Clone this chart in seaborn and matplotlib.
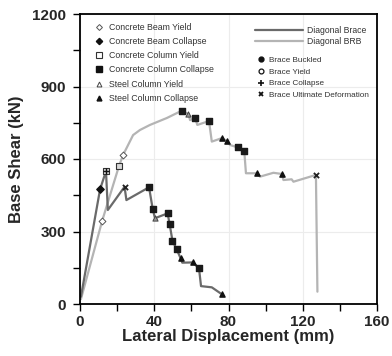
import matplotlib
matplotlib.use("Agg")
import matplotlib.pyplot as plt
import seaborn as sns
import pandas as pd
from matplotlib.lines import Line2D

# Diagonal brace pushover curve
brace_x = [0.5, 10.8, 14.0, 15.0, 24.0, 25.0, 37.2, 39.2, 40.4, 47.2, 48.3, 49.8,
           52.1, 54.2, 55.1, 60.7, 64.1, 65.2, 71.0, 76.3]
brace_y = [30, 474, 550, 389, 485, 430, 483, 392, 355, 375, 330, 262,
           226, 189, 171, 172, 148, 74, 69, 41]

# Diagonal BRB pushover curve
brb_x = [0.5, 11.9, 21.0, 23.3, 28.6, 32.3, 37.7, 46.9, 54.8, 58.4, 59.3, 62.0,
         63.2, 69.5, 71.0, 76.3, 79.4, 80.8, 85.0, 88.5, 89.4, 95.2, 97.0, 104.2,
         108.7, 109.6, 114.0, 115.0, 127.1, 127.9]
brb_y = [20, 343, 571, 618, 699, 720, 741, 770, 800, 786, 761, 771,
         741, 757, 672, 686, 674, 658, 648, 632, 541, 541, 527, 543,
         538, 513, 516, 506, 534, 51]

# damage events
beam_yield_x, beam_yield_y = [11.9, 23.3], [343, 618]
beam_coll_x, beam_coll_y = [10.8], [474]
col_yield_x, col_yield_y = [21.0, 14.0], [571, 550]
col_coll_x = [37.2, 39.2, 47.2, 48.3, 49.8, 52.1, 64.1, 54.8, 62.0, 69.5, 85.0, 88.5]
col_coll_y = [483, 392, 375, 330, 262, 226, 148, 800, 771, 757, 648, 632]
steel_yield_x, steel_yield_y = [40.4, 58.4], [355, 786]
steel_coll_x = [54.2, 60.7, 76.3, 76.3, 79.4, 95.2, 108.7]
steel_coll_y = [189, 172, 41, 686, 674, 541, 538]
brace_coll_x, brace_coll_y = [14.0], [550]
brace_ult_x, brace_ult_y = [24.0, 127.1], [485, 534]

sns.set_style("white")
plt.rcParams["font.family"] = ["Liberation Sans", "DejaVu Sans"]

fig = plt.figure(figsize=(3.92, 3.56), dpi=100)
ax = fig.add_axes([80 / 392, 1 - 304 / 356, 297 / 392, 290 / 356])

dark = "#6a6a6a"
light = "#b4b4b4"

sns.lineplot(x=brb_x, y=brb_y, sort=False, estimator=None, color=light, lw=1.6, ax=ax)
sns.lineplot(x=brace_x, y=brace_y, sort=False, estimator=None, color=dark, lw=1.6, ax=ax)

ms = 24
ax.scatter(beam_yield_x, beam_yield_y, marker="D", s=12, facecolor="white", edgecolor="#555555", lw=0.7, zorder=5)
ax.scatter(beam_coll_x, beam_coll_y, marker="D", s=14, facecolor="#111111", edgecolor="#111111", zorder=5)
ax.scatter(col_yield_x, col_yield_y, marker="s", s=ms, facecolor="#d8d8d8", edgecolor="#333333", lw=0.8, zorder=5)
ax.scatter(col_coll_x, col_coll_y, marker="s", s=ms, facecolor="#1a1a1a", edgecolor="#1a1a1a", zorder=5)
ax.scatter(steel_yield_x, steel_yield_y, marker="^", s=14, facecolor="#999999", edgecolor="#444444", lw=0.7, zorder=5)
ax.scatter(steel_coll_x, steel_coll_y, marker="^", s=14, facecolor="#111111", edgecolor="#111111", zorder=5)
ax.scatter(brace_coll_x, brace_coll_y, marker="+", s=14, color="#111111", lw=1.0, zorder=6)
ax.scatter(brace_ult_x, brace_ult_y, marker="x", s=14, color="#222222", lw=1.3, zorder=6)

ax.set_xlim(0, 160)
ax.set_ylim(0, 1200)
ax.set_xticks([0, 40, 80, 120, 160])
ax.set_xticks([20, 60, 100, 140], minor=True)
ax.set_yticks([0, 300, 600, 900, 1200])
ax.set_yticks([150, 450, 750, 1050], minor=True)
ax.grid(True, which="major", color="#ececec", lw=0.8)
ax.set_axisbelow(True)
for s in ax.spines.values():
    s.set_color("black")
    s.set_linewidth(1.3)
ax.tick_params(which="both", direction="out", length=5, width=1.0, color="black",
               bottom=True, left=True)
ax.tick_params(axis="y", which="major", labelsize=11, pad=5)
ax.tick_params(axis="x", which="major", labelsize=11, pad=3)
for lab in ax.get_xticklabels() + ax.get_yticklabels():
    lab.set_fontweight("bold")
ax.set_xlabel("Lateral Displacement (mm)", fontsize=12, fontweight="bold", labelpad=0)
ax.set_ylabel("Base Shear (kN)", fontsize=12, fontweight="bold", labelpad=6)

txt = "#333333"
# legends
h_left = [
    Line2D([], [], ls="", marker="D", ms=3, mfc="white", mec="#555555", mew=0.7),
    Line2D([], [], ls="", marker="D", ms=3.2, mfc="#111111", mec="#111111"),
    Line2D([], [], ls="", marker="s", ms=4.5, mfc="white", mec="#333333", mew=0.8),
    Line2D([], [], ls="", marker="s", ms=4.5, mfc="#111111", mec="#111111"),
    Line2D([], [], ls="", marker="^", ms=3.5, mfc="white", mec="#444444", mew=0.7),
    Line2D([], [], ls="", marker="^", ms=3.5, mfc="#111111", mec="#111111"),
]
l_left = ["Concrete Beam Yield", "Concrete Beam Collapse", "Concrete Column Yield",
          "Concrete Column Collapse", "Steel Column Yield", "Steel Column Collapse"]
leg1 = ax.legend(h_left, l_left, loc="upper left", bbox_to_anchor=(0.05, 0.97),
                 frameon=False, fontsize=6.3, handlelength=1.0, handletextpad=0.6,
                 labelspacing=0.6, borderpad=0, borderaxespad=0, labelcolor=txt)
ax.add_artist(leg1)

h_lines = [Line2D([], [], color=dark, lw=1.6), Line2D([], [], color=light, lw=1.6)]
leg2 = ax.legend(h_lines, ["Diagonal Brace", "Diagonal BRB"], loc="upper left",
                 bbox_to_anchor=(0.59, 0.96), frameon=False, fontsize=6.2,
                 handlelength=5.6, handletextpad=0.4, labelspacing=0.3,
                 borderpad=0, borderaxespad=0, labelcolor=txt)
ax.add_artist(leg2)

h_br = [
    Line2D([], [], ls="", marker="o", ms=3.5, mfc="#111111", mec="#111111"),
    Line2D([], [], ls="", marker="o", ms=3.5, mfc="white", mec="#111111", mew=0.9),
    Line2D([], [], ls="", marker="+", ms=4, mec="#111111", mew=1.2),
    Line2D([], [], ls="", marker="x", ms=3.5, mec="#111111", mew=1.3),
]
ax.legend(h_br, ["Brace Buckled", "Brace Yield", "Brace Collapse", "Brace Ultimate Deformation"],
          loc="upper left", bbox_to_anchor=(0.595, 0.855), frameon=False, fontsize=5.9,
          handlelength=1.0, handletextpad=0.5, labelspacing=0.5,
          borderpad=0, borderaxespad=0, labelcolor=txt)

fig.savefig("out.png", dpi=100)
